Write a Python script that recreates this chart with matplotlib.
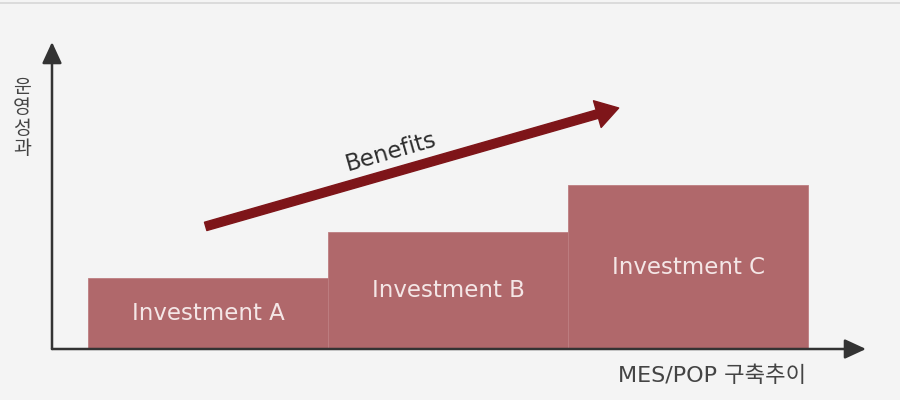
import matplotlib
matplotlib.use("Agg")
import matplotlib.pyplot as plt

# data
labels = ["Investment A", "Investment B", "Investment C"]
values = [1.52, 2.5, 3.5]
xlabel = "MES/POP 구축추이"
ylabel = "운영성과"
arrow_text = "Benefits"

FONT = ["DejaVu Sans", "Noto Sans CJK KR"]
plt.rcParams["font.family"] = FONT

W, H = 900, 400
fig = plt.figure(figsize=(9, 4), dpi=100)
fig.patch.set_facecolor("#f4f4f4")

# axes placed in pixel space: left spine x=52, arrow tip x=866, base y=349, top tip y=42
x0, x1, yb, yt = 52, 866, 349, 42
ax = fig.add_axes([x0 / W, 1 - yb / H, (x1 - x0) / W, (yb - yt) / H])
ax.set_facecolor("none")
ax.set_xlim(-0.15, 3.24)
ax.set_ylim(0, 6.56)
for s in ax.spines.values():
    s.set_visible(False)
ax.set_xticks([]); ax.set_yticks([])

xs = range(len(values))
bars = ax.bar(xs, values, width=1.0, align="edge", color="#b0686b",
              edgecolor="#bd7e81", linewidth=0.6, zorder=2)
for x, v, lab in zip(xs, values, labels):
    ax.text(x + 0.5, v / 2, lab, ha="center", va="center", color="#f4e6e6",
            fontsize=16.5, zorder=3)

# axis arrows
ax.annotate("", xy=(1, 0), xytext=(0, 0), xycoords="axes fraction",
            arrowprops=dict(arrowstyle="-|>,head_length=1.3,head_width=0.6",
                            color="#333333", lw=1.8, shrinkA=0, shrinkB=0), zorder=4)
ax.annotate("", xy=(0, 1), xytext=(0, 0), xycoords="axes fraction",
            arrowprops=dict(arrowstyle="-|>,head_length=1.3,head_width=0.6",
                            color="#333333", lw=1.8, shrinkA=0, shrinkB=0), zorder=4)

# benefits arrow
ax.annotate("", xy=(2.21, 5.15), xytext=(0.49, 2.62),
            arrowprops=dict(arrowstyle="simple,head_length=1.6,head_width=2.0,tail_width=0.62",
                            color="#7e1519", shrinkA=0, shrinkB=0), zorder=3)
ax.text(1.26, 4.21, arrow_text, rotation=16, ha="center", va="center",
        color="#2e2e2e", fontsize=16.5, rotation_mode="anchor")

fig.text(22 / W, 1 - 118 / H, "\n".join(ylabel), ha="center", va="center",
         color="#444444", fontsize=14, linespacing=0.95,
         family=["Noto Sans CJK KR", "DejaVu Sans"])
fig.text(712 / W, 1 - 376 / H, xlabel, ha="center", va="center",
         color="#444444", fontsize=16)

# top border line
fig.add_artist(plt.Line2D([0, 1], [1 - 2.5 / H] * 2, color="#d6d6d6", lw=1.2,
                          transform=fig.transFigure))

fig.savefig("out.png", dpi=100, facecolor=fig.get_facecolor())
